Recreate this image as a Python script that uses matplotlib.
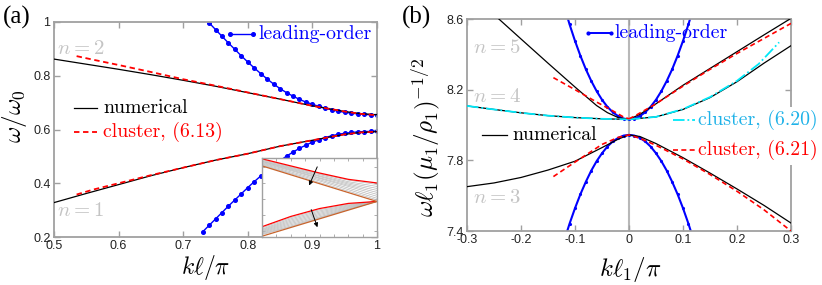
import numpy as np
import matplotlib
matplotlib.use("Agg")
import matplotlib.pyplot as plt
from matplotlib.patches import Rectangle

plt.rcParams['font.family'] = ['Liberation Sans', 'DejaVu Sans']
plt.rcParams['mathtext.fontset'] = 'cm'

# ---------------- panel (a) data ----------------
a_k = [0.5, 0.55, 0.6, 0.65, 0.7, 0.75, 0.8, 0.85, 0.9, 0.95, 0.975, 1.0]
a_num_up = [0.862, 0.843, 0.824, 0.804, 0.783, 0.761, 0.737, 0.713, 0.688, 0.667, 0.659, 0.655]
a_num_lo = [0.328, 0.362, 0.395, 0.428, 0.458, 0.486, 0.510, 0.538, 0.560, 0.582, 0.589, 0.592]

a_kc = [0.535, 0.56, 0.6, 0.65, 0.7, 0.75, 0.8, 0.85, 0.9, 0.95, 0.975, 1.0]
a_clu_up = [0.873, 0.860, 0.840, 0.814, 0.787, 0.763, 0.738, 0.713, 0.688, 0.667, 0.658, 0.653]
a_clu_lo = [0.358, 0.376, 0.400, 0.430, 0.458, 0.486, 0.510, 0.538, 0.560, 0.582, 0.589, 0.592]

a_kl_up = [0.74, 0.75, 0.76, 0.77, 0.78, 0.79, 0.80, 0.81, 0.82, 0.83, 0.84, 0.85, 0.86,
           0.87, 0.88, 0.89, 0.90, 0.91, 0.92, 0.93, 0.94, 0.95, 0.96, 0.97, 0.98, 0.99, 1.0]
a_lead_up = [0.997, 0.972, 0.947, 0.922, 0.898, 0.874, 0.851, 0.829, 0.808, 0.788, 0.769,
             0.752, 0.737, 0.724, 0.712, 0.702, 0.694, 0.686, 0.679, 0.673, 0.668, 0.664,
             0.661, 0.658, 0.656, 0.655, 0.655]
a_kl_lo = [0.73, 0.74, 0.75, 0.76, 0.77, 0.78, 0.79, 0.80, 0.81, 0.82, 0.83, 0.84, 0.85, 0.86,
           0.87, 0.88, 0.89, 0.90, 0.91, 0.92, 0.93, 0.94, 0.95, 0.96, 0.97, 0.98, 0.99, 1.0]
a_lead_lo = [0.219, 0.243, 0.267, 0.291, 0.315, 0.338, 0.361, 0.384, 0.406, 0.427, 0.447,
             0.466, 0.484, 0.501, 0.516, 0.530, 0.542, 0.553, 0.562, 0.570, 0.577, 0.582,
             0.586, 0.589, 0.591, 0.592, 0.593, 0.593]

a_xticks = [0.5, 0.6, 0.7, 0.8, 0.9, 1.0]
a_xlabels = ['0.5', '0.6', '0.7', '0.8', '0.9', '1']
a_yticks = [0.2, 0.4, 0.6, 0.8, 1.0]
a_ylabels = ['0.2', '0.4', '0.6', '0.8', '1']

# inset (schematic, axes units)
ins_x = [0, 0.25, 0.5, 0.75, 1.0]
ins_red_up = [0.99, 0.90, 0.81, 0.73, 0.684]
ins_org_up = [0.90, 0.7875, 0.675, 0.5625, 0.45]
ins_grey_up = [
    [0.98, 0.89, 0.80, 0.72, 0.665],
    [0.97, 0.88, 0.79, 0.70, 0.64],
    [0.96, 0.87, 0.775, 0.685, 0.615],
    [0.955, 0.86, 0.765, 0.67, 0.59],
    [0.945, 0.85, 0.75, 0.655, 0.565],
    [0.935, 0.84, 0.74, 0.64, 0.54],
    [0.925, 0.825, 0.725, 0.62, 0.515],
    [0.915, 0.81, 0.71, 0.60, 0.49],
    [0.905, 0.80, 0.69, 0.58, 0.47],
]
ins_red_lo = [0.13, 0.26, 0.36, 0.425, 0.45]
ins_org_lo = [0.01, 0.12, 0.23, 0.34, 0.45]
ins_grey_lo = [
    [0.115, 0.245, 0.345, 0.415, 0.45],
    [0.10, 0.23, 0.33, 0.405, 0.45],
    [0.09, 0.215, 0.315, 0.395, 0.45],
    [0.08, 0.20, 0.30, 0.385, 0.45],
    [0.07, 0.185, 0.285, 0.375, 0.45],
    [0.06, 0.17, 0.27, 0.365, 0.45],
    [0.05, 0.155, 0.255, 0.355, 0.45],
    [0.04, 0.14, 0.245, 0.35, 0.45],
    [0.03, 0.13, 0.235, 0.345, 0.45],
]

# ---------------- panel (b) data ----------------
b_k5L = [-0.241, -0.2, -0.15, -0.1, -0.06, -0.04, -0.02, 0.0]
b_n5L = [8.6, 8.487, 8.350, 8.215, 8.11, 8.07, 8.042, 8.032]
b_k5R = [0.0, 0.02, 0.05, 0.1, 0.15, 0.2, 0.25, 0.298]
b_n5R = [8.032, 8.06, 8.12, 8.225, 8.32, 8.415, 8.51, 8.6]
b_k4L = [-0.3, -0.25, -0.2, -0.15, -0.1, -0.05, 0.0]
b_n4L = [8.108, 8.088, 8.069, 8.053, 8.042, 8.035, 8.032]
b_k4R = [0.0, 0.05, 0.1, 0.15, 0.2, 0.25, 0.3]
b_n4R = [8.032, 8.046, 8.088, 8.155, 8.245, 8.35, 8.449]
b_k3 = [-0.3, -0.25, -0.2, -0.15, -0.1, -0.05, -0.02, 0.0, 0.02, 0.05, 0.1, 0.15, 0.2, 0.25, 0.3]
b_n3 = [7.651, 7.672, 7.703, 7.745, 7.795, 7.872, 7.92, 7.944, 7.935, 7.895, 7.815, 7.728,
        7.638, 7.545, 7.445]

b_kcyL = [-0.3, -0.25, -0.2, -0.15, -0.1, -0.05, 0.0]
b_cyL = [8.108, 8.088, 8.069, 8.053, 8.042, 8.035, 8.032]
b_kcyR = [0.0, 0.05, 0.1, 0.15, 0.2, 0.24, 0.278]
b_cyR = [8.032, 8.046, 8.09, 8.158, 8.25, 8.345, 8.468]

b_kr5L = [-0.14, -0.1, -0.06, -0.03, -0.01, 0.0]
b_r5L = [8.268, 8.20, 8.13, 8.08, 8.045, 8.035]
b_kr5R = [0.0, 0.01, 0.05, 0.1, 0.15, 0.2, 0.25, 0.3]
b_r5R = [8.035, 8.05, 8.12, 8.22, 8.315, 8.405, 8.49, 8.575]
b_kr3 = [-0.14, -0.1, -0.05, -0.02, 0.0, 0.02, 0.05, 0.1, 0.15, 0.2, 0.25, 0.3]
b_r3 = [7.708, 7.79, 7.89, 7.93, 7.944, 7.925, 7.885, 7.808, 7.72, 7.625, 7.52, 7.40]

b_kp = [-0.12, -0.11, -0.10, -0.09, -0.08, -0.07, -0.06, -0.05, -0.04, -0.03, -0.02, -0.01, 0.0,
        0.01, 0.02, 0.03, 0.04, 0.05, 0.06, 0.07, 0.08, 0.09, 0.10, 0.11, 0.12]
b_lead_up = [8.671, 8.569, 8.476, 8.392, 8.316, 8.250, 8.192, 8.143, 8.103, 8.072, 8.050, 8.036,
             8.032, 8.036, 8.050, 8.072, 8.103, 8.143, 8.192, 8.250, 8.316, 8.392, 8.476,
             8.569, 8.671]
b_lead_lo = [7.346, 7.442, 7.529, 7.608, 7.678, 7.741, 7.795, 7.840, 7.878, 7.907, 7.927, 7.940,
             7.944, 7.940, 7.927, 7.907, 7.878, 7.840, 7.795, 7.741, 7.678, 7.608, 7.529,
             7.442, 7.346]

b_xticks = [-0.3, -0.2, -0.1, 0.0, 0.1, 0.2, 0.3]
b_xlabels = ['-0.3', '-0.2', '-0.1', '0', '0.1', '0.2', '0.3']
b_yticks = [7.4, 7.8, 8.2, 8.6]
b_ylabels = ['7.4', '7.8', '8.2', '8.6']

# ---------------- styles ----------------
BLUE = '#0000ff'
RED = '#ff0000'
CYAN = '#00e8f8'
CYAN_TXT = '#1fb2e8'
GREY_N = '#c4c4c4'
SPINE = '#a0a0a0'
DASH = (0, (3, 2))
LEG = dict(family='cmr10', fontsize=14.3)


def style_axes(ax):
    for s in ax.spines.values():
        s.set_color(SPINE)
        s.set_linewidth(1.3)
    ax.tick_params(direction='in', length=4, width=1, color=SPINE, top=True, right=True,
                   labelsize=9, labelcolor='#222222', pad=2.5)


fig = plt.figure(figsize=(8.22, 2.85), dpi=100)

# ===== panel (a) =====
ax = fig.add_axes([54 / 822, 1 - 237 / 285, 323 / 822, 215 / 285])
style_axes(ax)
ax.plot(a_k, a_num_up, color='k', lw=0.9, zorder=3)
ax.plot(a_k, a_num_lo, color='k', lw=0.9, zorder=3)
ax.plot(a_kc, a_clu_up, color=RED, lw=1.3, ls=DASH, zorder=4)
ax.plot(a_kc, a_clu_lo, color=RED, lw=1.3, ls=DASH, zorder=4)
ax.plot(a_kl_up, a_lead_up, color=BLUE, lw=1, marker='o', ms=2.6, zorder=2)
ax.plot(a_kl_lo, a_lead_lo, color=BLUE, lw=1, marker='o', ms=2.6, zorder=2)
ax.set_xlim(0.5, 1.0)
ax.set_ylim(0.2, 1.0)
ax.set_xticks(a_xticks, labels=a_xlabels)
ax.set_yticks(a_yticks, labels=a_ylabels)
ax.set_xlabel(r'$k\ell/\pi$', fontsize=17)
ax.set_ylabel(r'$\omega/\omega_0$', fontsize=18)
ax.xaxis.set_label_coords(0.468, -0.075)
ax.xaxis.label.set_va('top')
ax.yaxis.set_label_coords(-0.122, 0.56)
ax.yaxis.label.set_va('center')

ax.text(0.505, 0.90, r'$n=2$', color=GREY_N, fontsize=15, va='center')
ax.text(0.505, 0.30, r'$n=1$', color=GREY_N, fontsize=15, va='center')

ax.plot([0.062, 0.133], [0.60, 0.60], color='k', lw=0.9, transform=ax.transAxes)
ax.text(0.152, 0.60, 'numerical', color='k', va='center', transform=ax.transAxes, **LEG)
ax.plot([0.062, 0.133], [0.488, 0.488], color=RED, lw=1.3, ls=DASH,
        transform=ax.transAxes)
ax.text(0.152, 0.488, 'cluster, (6.13)', color=RED, va='center', transform=ax.transAxes,
        **LEG)
ax.plot([0.545, 0.616], [0.944, 0.944], color=BLUE, lw=1, marker='o', ms=2.6,
        transform=ax.transAxes)
ax.text(0.632, 0.944, 'leading-order', color=BLUE, va='center', transform=ax.transAxes,
        **LEG)

# inset
ins = fig.add_axes([262 / 822, 1 - 237 / 285, 115 / 822, 79 / 285])
for s in ins.spines.values():
    s.set_color(SPINE)
    s.set_linewidth(1.0)
ins.set_xlim(0, 1)
ins.set_ylim(0, 1)
ins.set_xticks([0.125, 0.25, 0.375, 0.5, 0.625, 0.75, 0.875])
ins.set_yticks([0.08, 0.28, 0.48, 0.68, 0.89])
ins.tick_params(direction='in', length=2, width=0.6, color=SPINE, top=True, right=True,
                labelbottom=False, labelleft=False)
for g in ins_grey_up:
    ins.plot(ins_x, g, color='#b8b8b8', lw=0.5)
for g in ins_grey_lo:
    ins.plot(ins_x, g, color='#b8b8b8', lw=0.5)
ins.plot(ins_x, ins_red_up, color=RED, lw=0.9)
ins.plot(ins_x, ins_red_lo, color=RED, lw=0.9)
ins.plot(ins_x, ins_org_up, color='#c8642d', lw=0.9)
ins.plot(ins_x, ins_org_lo, color='#c8642d', lw=0.9)
ins.annotate('', xy=(0.40, 0.62), xytext=(0.49, 0.92),
             arrowprops=dict(arrowstyle='-|>', color='k', lw=0.7, mutation_scale=6))
ins.annotate('', xy=(0.49, 0.09), xytext=(0.42, 0.38),
             arrowprops=dict(arrowstyle='-|>', color='k', lw=0.7, mutation_scale=6))

# ===== panel (b) =====
bx = fig.add_axes([467 / 822, 1 - 231 / 285, 324 / 822, 212 / 285])
style_axes(bx)
bx.axvline(0, color='#b8b8b8', lw=1.5, zorder=1)
bx.plot(b_kp, b_lead_up, color=BLUE, lw=1.5, marker='.', ms=2.5, zorder=2)
bx.plot(b_kp, b_lead_lo, color=BLUE, lw=1.5, marker='.', ms=2.5, zorder=2)
bx.plot(b_k5L, b_n5L, color='k', lw=0.9, zorder=3)
bx.plot(b_k5R, b_n5R, color='k', lw=0.9, zorder=3)
bx.plot(b_k4L, b_n4L, color='k', lw=0.9, zorder=3)
bx.plot(b_k4R, b_n4R, color='k', lw=0.9, zorder=3)
bx.plot(b_k3, b_n3, color='k', lw=0.9, zorder=3)
bx.plot(b_kcyL, b_cyL, color=CYAN, lw=1.3, ls='-.', zorder=4)
bx.plot(b_kcyR, b_cyR, color=CYAN, lw=1.3, ls='-.', zorder=4)
bx.plot(b_kr5L, b_r5L, color=RED, lw=1.2, ls=DASH, zorder=4)
bx.plot(b_kr5R, b_r5R, color=RED, lw=1.2, ls=DASH, zorder=4)
bx.plot(b_kr3, b_r3, color=RED, lw=1.2, ls=DASH, zorder=4)
bx.set_xlim(-0.3, 0.3)
bx.set_ylim(7.4, 8.6)
bx.set_xticks(b_xticks, labels=b_xlabels)
bx.set_yticks(b_yticks, labels=b_ylabels)
bx.set_xlabel(r'$k\ell_1/\pi$', fontsize=18)
bx.set_ylabel(r'$\omega\ell_1(\mu_1/\rho_1)^{-1/2}$', fontsize=18)
bx.xaxis.set_label_coords(0.503, -0.115)
bx.xaxis.label.set_va('top')
bx.yaxis.set_label_coords(-0.127, 0.44)
bx.yaxis.label.set_va('center')

bx.text(-0.288, 8.44, r'$n=5$', color=GREY_N, fontsize=15, va='center')
bx.text(-0.288, 8.16, r'$n=4$', color=GREY_N, fontsize=15, va='center')
bx.text(-0.288, 7.59, r'$n=3$', color=GREY_N, fontsize=15, va='center')

bx.plot([0.373, 0.444], [0.934, 0.934], color=BLUE, lw=1.4, marker='.', ms=4,
        transform=bx.transAxes)
bx.text(0.454, 0.934, 'leading-order', color=BLUE, va='center', transform=bx.transAxes,
        **LEG)
bx.plot([0.046, 0.123], [0.453, 0.453], color='k', lw=0.9, transform=bx.transAxes)
bx.text(0.139, 0.453, 'numerical', color='k', va='center', transform=bx.transAxes, **LEG)

bx.add_patch(Rectangle((0.712, 0.311), 0.40, 0.274, transform=bx.transAxes, fc='white',
                       ec='none', clip_on=False, zorder=5))
bx.plot([0.636, 0.705], [0.524, 0.524], color=CYAN, lw=1.3, ls='-.',
        transform=bx.transAxes, clip_on=False, zorder=6)
bx.text(0.714, 0.524, 'cluster, (6.20)', color=CYAN_TXT, va='center',
        transform=bx.transAxes, clip_on=False, zorder=6, **LEG)
bx.plot([0.636, 0.708], [0.382, 0.382], color=RED, lw=1.2, ls=DASH,
        transform=bx.transAxes, clip_on=False, zorder=6)
bx.text(0.714, 0.382, 'cluster, (6.21)', color=RED, va='center',
        transform=bx.transAxes, clip_on=False, zorder=6, **LEG)

fig.text(3 / 822, 1 - 17 / 285, '(a)', fontsize=18, family='Liberation Serif', va='center')
fig.text(402 / 822, 1 - 17 / 285, '(b)', fontsize=18, family='Liberation Serif', va='center')

fig.savefig('out.png', dpi=100)
